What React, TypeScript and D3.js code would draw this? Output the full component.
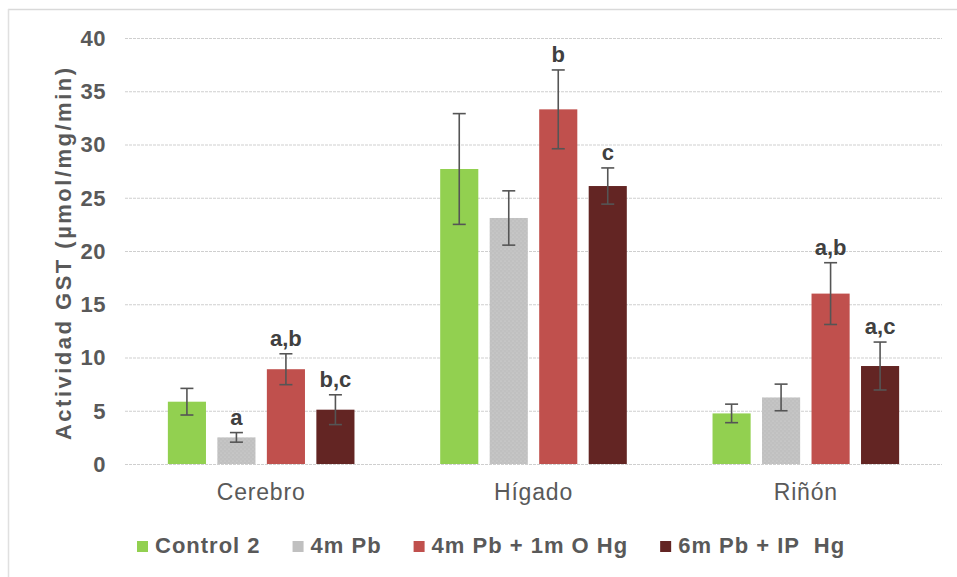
import { useEffect, useRef } from "react";
import * as d3 from "d3";

const organs = ["Cerebro", "Hígado", "Riñón"];
const groups = ["Control 2", "4m Pb", "4m Pb + 1m O Hg", "6m Pb + IP  Hg"];
const colors = ["#92D050", "#C0C0C0", "#C0504D", "#632523"];

// means per group, in organ order
const control2 = [5.85, 27.7, 4.75];
const pb4 = [2.5, 23.1, 6.25];
const pbOHg = [8.9, 33.3, 16.0];
const pbIPHg = [5.1, 26.1, 9.2];

// error (+/-)
const control2Err = [1.25, 5.2, 0.87];
const pb4Err = [0.45, 2.55, 1.25];
const pbOHgErr = [1.45, 3.7, 2.9];
const pbIPHgErr = [1.4, 1.7, 2.25];

// significance letters
const control2Lbl = ["", "", ""];
const pb4Lbl = ["a", "", ""];
const pbOHgLbl = ["a,b", "b", "a,b"];
const pbIPHgLbl = ["b,c", "c", "a,c"];

const yTicks = [0, 5, 10, 15, 20, 25, 30, 35, 40];

const W = 957;
const H = 577;
const FONT = "'Liberation Sans', Arial, sans-serif";
const TXT = "#595959";

export default function App() {
  const svgRef = useRef<SVGSVGElement>(null);

  useEffect(() => {
    const svg = d3.select(svgRef.current);
    svg.selectAll("*").remove();

    const means = [control2, pb4, pbOHg, pbIPHg];
    const errs = [control2Err, pb4Err, pbOHgErr, pbIPHgErr];
    const lbls = [control2Lbl, pb4Lbl, pbOHgLbl, pbIPHgLbl];

    const rows = organs.flatMap((o, oi) =>
      groups.map((g, gi) => ({
        organ: o,
        group: g,
        gi,
        v: means[gi][oi],
        e: errs[gi][oi],
        lbl: lbls[gi][oi],
      }))
    );

    const x0 = d3.scaleBand().domain(organs).range([125, 942]).padding(0);
    const x1 = d3
      .scaleBand()
      .domain(groups)
      .range([-99, 99])
      .paddingInner(0.23)
      .paddingOuter(0.115);
    const y = d3.scaleLinear().domain([0, 40]).range([464, 38]);

    const defs = svg.append("defs");
    const pat = defs
      .append("pattern")
      .attr("id", "dots")
      .attr("width", 4)
      .attr("height", 4)
      .attr("patternUnits", "userSpaceOnUse");
    pat.append("rect").attr("width", 4).attr("height", 4).attr("fill", colors[1]);
    pat
      .append("circle")
      .attr("cx", 1)
      .attr("cy", 1)
      .attr("r", 0.6)
      .attr("fill", "#d8d8d8");
    pat
      .append("circle")
      .attr("cx", 3)
      .attr("cy", 3)
      .attr("r", 0.6)
      .attr("fill", "#d0d0d0");

    // frame (top + left visible only)
    svg
      .append("line")
      .attr("x1", 8)
      .attr("x2", W)
      .attr("y1", 9.5)
      .attr("y2", 9.5)
      .attr("stroke", "#d9d9d9")
      .attr("stroke-width", 1.5);
    svg
      .append("line")
      .attr("x1", 8.5)
      .attr("x2", 8.5)
      .attr("y1", 9)
      .attr("y2", H)
      .attr("stroke", "#e0e0e0")
      .attr("stroke-width", 1.5);

    // grid
    svg
      .append("g")
      .selectAll("line")
      .data(yTicks)
      .join("line")
      .attr("x1", 125)
      .attr("x2", 942)
      .attr("y1", (d) => y(d) + 0.5)
      .attr("y2", (d) => y(d) + 0.5)
      .attr("stroke", "#cfcfcf")
      .attr("stroke-dasharray", "3,1");

    // y tick labels
    svg
      .append("g")
      .selectAll("text")
      .data(yTicks)
      .join("text")
      .attr("x", 106)
      .attr("y", (d) => y(d))
      .attr("dy", "0.36em")
      .attr("text-anchor", "end")
      .attr("font-family", FONT)
      .attr("font-weight", "bold")
      .attr("font-size", 22)
      .attr("letter-spacing", 0.5)
      .attr("fill", TXT)
      .text((d) => d);

    // bars
    const bx = (d: (typeof rows)[number]) =>
      (x0(d.organ) ?? 0) + x0.bandwidth() / 2 + (x1(d.group) ?? 0);

    svg
      .append("g")
      .selectAll("rect")
      .data(rows)
      .join("rect")
      .attr("x", (d) => bx(d))
      .attr("width", x1.bandwidth())
      .attr("y", (d) => y(d.v))
      .attr("height", (d) => y(0) - y(d.v))
      .attr("fill", (d) => (d.gi === 1 ? "url(#dots)" : colors[d.gi]));

    // error bars
    const eb = svg
      .append("g")
      .attr("stroke", "#555")
      .attr("stroke-width", 1.6)
      .selectAll("g")
      .data(rows)
      .join("g");
    const cx = (d: (typeof rows)[number]) => bx(d) + x1.bandwidth() / 2;
    eb.append("line")
      .attr("x1", cx)
      .attr("x2", cx)
      .attr("y1", (d) => y(d.v + d.e))
      .attr("y2", (d) => y(d.v - d.e));
    eb.append("line")
      .attr("x1", (d) => cx(d) - 6.5)
      .attr("x2", (d) => cx(d) + 6.5)
      .attr("y1", (d) => y(d.v + d.e))
      .attr("y2", (d) => y(d.v + d.e));
    eb.append("line")
      .attr("x1", (d) => cx(d) - 6.5)
      .attr("x2", (d) => cx(d) + 6.5)
      .attr("y1", (d) => y(d.v - d.e))
      .attr("y2", (d) => y(d.v - d.e));

    // significance letters
    svg
      .append("g")
      .selectAll("text")
      .data(rows.filter((d) => d.lbl))
      .join("text")
      .attr("x", cx)
      .attr("y", (d) => y(d.v + d.e) - 8)
      .attr("text-anchor", "middle")
      .attr("font-family", FONT)
      .attr("font-weight", "bold")
      .attr("font-size", 22)
      .attr("fill", "#404040")
      .text((d) => d.lbl);

    // category labels
    svg
      .append("g")
      .selectAll("text")
      .data(organs)
      .join("text")
      .attr("x", (d) => (x0(d) ?? 0) + x0.bandwidth() / 2)
      .attr("y", 500)
      .attr("text-anchor", "middle")
      .attr("font-family", FONT)
      .attr("font-size", 23)
      .attr("letter-spacing", 0.8)
      .attr("fill", TXT)
      .text((d) => d);

    // y axis title
    svg
      .append("text")
      .attr("transform", "rotate(-90)")
      .attr("x", -254)
      .attr("y", 71)
      .attr("text-anchor", "middle")
      .attr("font-family", FONT)
      .attr("font-weight", "bold")
      .attr("font-size", 22)
      .attr("textLength", 372)
      .attr("lengthAdjust", "spacing")
      .attr("fill", TXT)
      .text("Actividad  GST (µmol/mg/min)");

    // legend
    const leg = svg.append("g");
    let lx = 137;
    groups.forEach((g, i) => {
      leg
        .append("rect")
        .attr("x", lx)
        .attr("y", 541)
        .attr("width", 11)
        .attr("height", 11)
        .attr("fill", colors[i]);
      const t = leg
        .append("text")
        .attr("x", lx + 18)
        .attr("y", 553)
        .attr("font-family", FONT)
        .attr("font-weight", "bold")
        .attr("font-size", 22)
        .attr("letter-spacing", 1)
        .attr("fill", TXT)
        .style("white-space", "pre")
        .text(g);
      const tw = (t.node() as SVGTextElement).getComputedTextLength();
      lx += 18 + tw + 32;
    });
  }, []);

  return (
    <svg
      ref={svgRef}
      width={W}
      height={H}
      style={{ position: "absolute", left: 0, top: 0, background: "#fff" }}
    />
  );
}
